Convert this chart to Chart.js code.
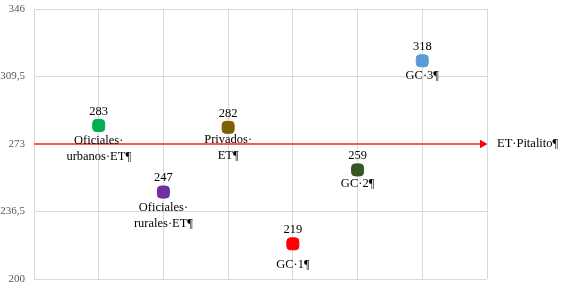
<!DOCTYPE html>
<html>
<head>
<meta charset="utf-8">
<script src="https://cdn.jsdelivr.net/npm/chart.js@4/dist/chart.umd.min.js"></script>
<style>
html,body{margin:0;padding:0;background:#fff;}
#wrap{width:561px;height:283px;position:relative;}
</style>
</head>
<body>
<div id="wrap"><canvas id="c" width="561" height="283"></canvas></div>
<script>
// ---- data ----
const categories = ['Oficiales·\nurbanos·ET¶', 'Oficiales·\nrurales·ET¶', 'Privados·\nET¶', 'GC·1¶', 'GC·2¶', 'GC·3¶'];
const xPositions = [1, 2, 3, 4, 5, 6];
const values = [283, 247, 282, 219, 259, 318];
const referenceValue = 273;
const referenceLabel = 'ET·Pitalito¶';
const yTickValues = [200, 236.5, 273, 309.5, 346];

// ---- style ----
const markerColors = ['#00b050', '#7030a0', '#7f6000', '#ff0000', '#375623', '#5b9bd5'];
const nameGaps = [15, 16, 12, 21, 14, 15];
const FONT = '"Liberation Serif", "Times New Roman", serif';

const labelPlugin = {
  id: 'labels',
  afterDatasetsDraw(chart) {
    const ctx = chart.ctx;
    const xs = chart.scales.x, ys = chart.scales.y;
    ctx.save();
    ctx.fillStyle = '#000';
    ctx.font = '12.5px ' + FONT;
    ctx.textAlign = 'center';
    ctx.textBaseline = 'middle';
    values.forEach((v, i) => {
      const px = xs.getPixelForValue(xPositions[i]);
      const py = ys.getPixelForValue(v);
      ctx.fillText(String(v), px, py - 14);
      const lines = categories[i].split('\n');
      lines.forEach((ln, j) => ctx.fillText(ln, px, py + nameGaps[i] + j * 16));
    });
    ctx.textAlign = 'left';
    ctx.fillText(referenceLabel, xs.right + 10, ys.getPixelForValue(referenceValue));
    ctx.restore();
  }
};

new Chart(document.getElementById('c'), {
  type: 'scatter',
  data: {
    datasets: [
      {
        data: xPositions.map((x, i) => ({ x, y: values[i] })),
        backgroundColor: markerColors,
        borderColor: markerColors,
        pointStyle: 'rectRounded',
        pointRadius: 7,
        pointHoverRadius: 7,
        order: 0
      },
      {
        type: 'line',
        data: [{ x: 0, y: referenceValue }, { x: 6.93, y: referenceValue }],
        borderColor: '#f55',
        borderWidth: 2,
        pointStyle: 'triangle',
        pointRotation: 90,
        pointRadius: [0, 5],
        pointBackgroundColor: '#f00',
        pointBorderColor: '#f00',
        pointBorderWidth: 0,
        fill: false,
        order: 1
      }
    ]
  },
  options: {
    responsive: false,
    animation: false,
    events: [],
    layout: { autoPadding: false, padding: { left: 0, right: 74, top: 9, bottom: 4 } },
    plugins: { legend: { display: false }, tooltip: { enabled: false } },
    scales: {
      x: {
        type: 'linear',
        min: 0, max: 7,
        afterFit(scale) { scale.height = 0; scale.paddingLeft = 0; scale.paddingRight = 0; scale.paddingTop = 0; scale.paddingBottom = 0; },
        ticks: { display: false, stepSize: 1 },
        grid: { color: '#d9d9d9', drawTicks: false },
        border: { display: false }
      },
      y: {
        min: 200, max: 346,
        afterBuildTicks(scale) { scale.ticks = yTickValues.map(v => ({ value: v })); },
        afterFit(scale) { scale.width = 34; scale.paddingTop = 0; scale.paddingBottom = 0; },
        ticks: {
          color: '#595959',
          font: { family: FONT, size: 11 },
          padding: 9,
          callback: v => String(v).replace('.', ',')
        },
        grid: { color: '#d9d9d9', drawTicks: false },
        border: { color: '#d9d9d9' }
      }
    }
  },
  plugins: [labelPlugin]
});
</script>
</body>
</html>
